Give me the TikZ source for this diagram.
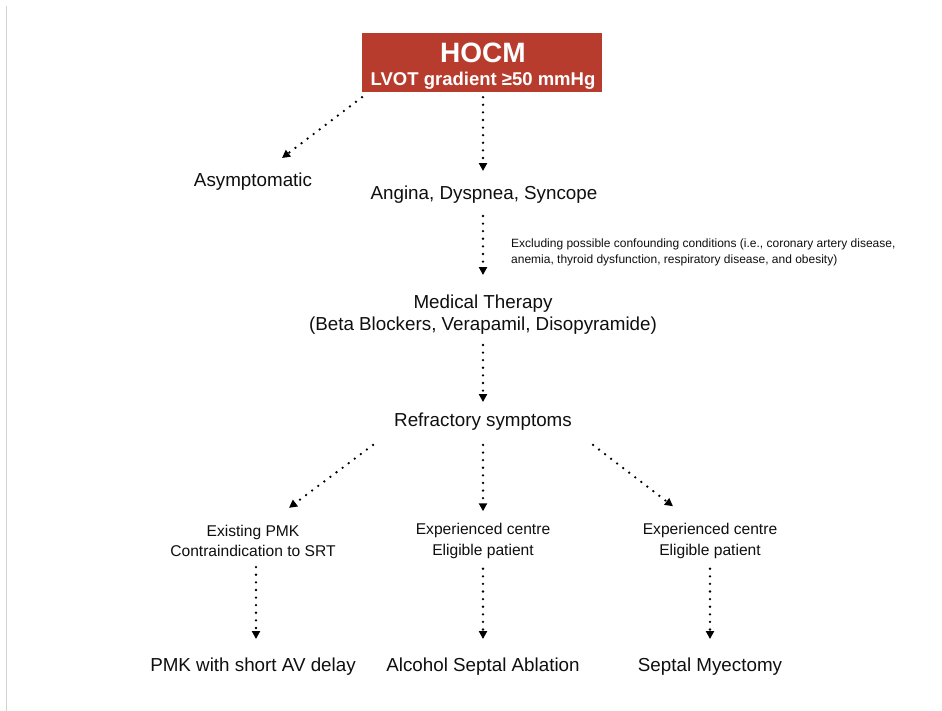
\documentclass[tikz,border=0pt]{standalone}
\usepackage{fontspec}
\setmainfont{Liberation Sans}
\usetikzlibrary{arrows.meta}
\definecolor{hocmred}{RGB}{183,60,46}
\definecolor{txt}{RGB}{15,15,15}
\begin{document}
\begin{tikzpicture}[x=1pt,y=-1pt,
  arr/.style={line width=2.6pt,dash pattern=on 0pt off 7.6pt,line cap=round,
    -{Triangle[width=8pt,length=8pt,line cap=butt]}},
  big/.style={inner sep=0pt,font=\fontsize{18.8}{22}\selectfont,text=txt,align=center},
  mid/.style={inner sep=0pt,font=\fontsize{15.6}{20.5}\selectfont,text=txt,align=center},
  small/.style={inner sep=0pt,font=\fontsize{12}{16}\selectfont,text=txt,align=left}]
\useasboundingbox (0,0) rectangle (942,711);
\fill[white] (0,0) rectangle (942,711);
\draw[gray!35,line width=1.2pt] (6.5,6) -- (6.5,711);
\node[fill=hocmred,minimum width=240pt,minimum height=59pt,inner sep=0pt] (hocm) at (482,62.5) {};
\node[text=white,font=\bfseries\fontsize{28}{30}\selectfont,inner sep=0pt] (hocmt) at (483,53) {HOCM};
\node[text=white,font=\bfseries\fontsize{18.5}{20}\selectfont,inner sep=0pt] (lvot) at (483,81) {LVOT gradient ≥50 mmHg};
\node[big] (asym) at (253,182) {Asymptomatic};
\node[big] (angina) at (484,195) {Angina, Dyspnea, Syncope};
\node[small,anchor=west] (excl) at (511,252) {Excluding possible confounding conditions (i.e., coronary artery disease,\\anemia, thyroid dysfunction, respiratory disease, and obesity)};
\node[big] (med) at (483,315) {Medical Therapy\\(Beta Blockers, Verapamil, Disopyramide)};
\node[big] (refr) at (483,422) {Refractory symptoms};
\node[mid] (pmkc) at (253,541) {Existing PMK\\Contraindication to SRT};
\node[mid] (expc) at (483,541) {Experienced centre\\Eligible patient};
\node[mid] (expr) at (710,541) {Experienced centre\\Eligible patient};
\node[big] (pmk) at (253,667) {PMK with short AV delay};
\node[big] (asa) at (483,667) {Alcohol Septal Ablation};
\node[big] (sm) at (710,667) {Septal Myectomy};
\draw[arr] ([xshift=-120pt,yshift=-5pt]hocm.south) -- ([xshift=29pt,yshift=15pt]asym.north);
\draw[arr] ([xshift=1pt,yshift=-5pt]hocm.south) -- ([xshift=-1pt,yshift=15pt]angina.north);
\draw[arr] ([xshift=-1pt,yshift=-12pt]angina.south) -- ([yshift=20pt]med.north);
\draw[arr] ([yshift=-10pt]med.south) -- ([yshift=11pt]refr.north);
\draw[arr] ([xshift=-110pt,yshift=-14pt]refr.south) -- ([xshift=36pt,yshift=17pt]pmkc.north);
\draw[arr] ([yshift=-14pt]refr.south) -- ([yshift=12pt]expc.north);
\draw[arr] ([xshift=110pt,yshift=-14pt]refr.south) -- ([xshift=-37pt,yshift=17pt]expr.north);
\draw[arr] ([xshift=3pt,yshift=-10pt]pmkc.south) -- ([xshift=3pt,yshift=19pt]pmk.north);
\draw[arr] ([yshift=-10pt]expc.south) -- ([yshift=19pt]asa.north);
\draw[arr] ([yshift=-10pt]expr.south) -- ([yshift=19pt]sm.north);
\end{tikzpicture}
\end{document}
